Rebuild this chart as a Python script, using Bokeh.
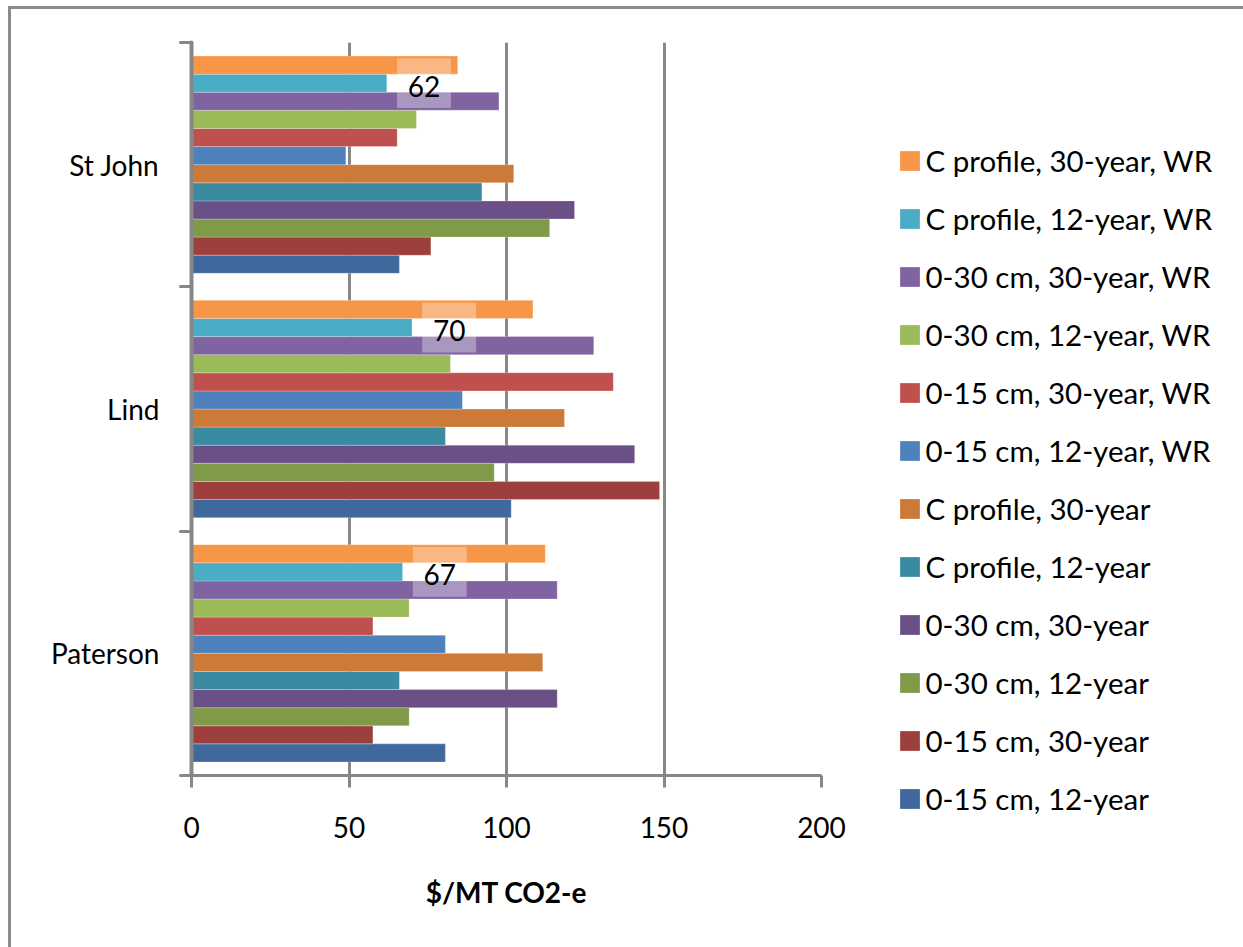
from bokeh.plotting import figure
from bokeh.models import FixedTicker, Legend, LegendItem
from bokeh.core.properties import value
from bokeh.embed import file_html
from bokeh.resources import INLINE

# ---------------- data ----------------
sites = ["Paterson", "Lind", "St John"]          # bottom -> top

series_names = [
    "0-15 cm, 12-year",
    "0-15 cm, 30-year",
    "0-30 cm, 12-year",
    "0-30 cm, 30-year",
    "C profile, 12-year",
    "C profile, 30-year",
    "0-15 cm, 12-year, WR",
    "0-15 cm, 30-year, WR",
    "0-30 cm, 12-year, WR",
    "0-30 cm, 30-year, WR",
    "C profile, 12-year, WR",
    "C profile, 30-year, WR",
]

# values per site: [Paterson, Lind, St John]
cm15_12 = [80.6, 101.5, 66.0]
cm15_30 = [57.6, 148.6, 76.0]
cm30_12 = [69.1, 96.1, 113.7]
cm30_30 = [116.1, 140.7, 121.6]
cprof_12 = [66.0, 80.6, 92.2]
cprof_30 = [111.5, 118.4, 102.3]
cm15_12_wr = [80.6, 86.0, 49.0]
cm15_30_wr = [57.6, 133.9, 65.3]
cm30_12_wr = [69.1, 82.2, 71.4]
cm30_30_wr = [116.1, 127.7, 97.6]
cprof_12_wr = [67.0, 70.0, 62.0]
cprof_30_wr = [112.3, 108.4, 84.5]

series_values = [cm15_12, cm15_30, cm30_12, cm30_30, cprof_12, cprof_30,
                 cm15_12_wr, cm15_30_wr, cm30_12_wr, cm30_30_wr, cprof_12_wr, cprof_30_wr]

series_colors = ["#3F699C", "#9D403D", "#7F9A48", "#6A5087", "#3A8AA2", "#CC7A38",
                 "#4F81BD", "#C0504D", "#9BBB59", "#8064A2", "#4BACC6", "#F79646"]

labeled_series = 10          # data labels belong to "C profile, 12-year, WR"
label_values = cprof_12_wr

x_ticks = [0, 50, 100, 150, 200]

# ---------------- styling ----------------
FONT = "Lato"
GRAY = "#878787"
FRAME_GRAY = "#8c8c8c"
pitch = 0.0741

p = figure(frame_width=630, frame_height=733, x_range=(0, 200), y_range=(0, 3),
           output_backend="svg", toolbar_location=None,
           min_border_left=191, min_border_right=422,
           min_border_top=42, min_border_bottom=172)
p.outline_line_color = None
p.background_fill_color = "white"
p.border_fill_color = None
p.styles = {
    "background-color": "white",
    "background-image": f"linear-gradient({FRAME_GRAY},{FRAME_GRAY}), linear-gradient({FRAME_GRAY},{FRAME_GRAY})",
    "background-size": "3px 100%, 100% 3px",
    "background-position": "8px 6px, 8px 6px",
    "background-repeat": "no-repeat",
}

centers = [i + 0.5 for i in range(len(sites))]
items = []
for i, (name, vals, col) in enumerate(zip(series_names, series_values, series_colors)):
    ys = [c + (i - 5.5) * pitch for c in centers]
    r = p.hbar(y=ys, left=0, right=vals, height=pitch, fill_color=col,
               line_color="white", line_alpha=0.25, line_width=1)
    items.append(LegendItem(label=name, renderers=[r]))

# data labels with translucent white box
lab_off = 11.8
lab_x = [v + lab_off for v in label_values]
lab_y = [c + (labeled_series - 5.5) * pitch for c in centers]
p.rect(x=lab_x, y=lab_y, width=17.1, height=2.75 * pitch,
       fill_color="white", fill_alpha=0.33, line_color=None)
p.text(x=lab_x, y=lab_y, text=[str(int(v)) for v in label_values],
       text_align="center", text_baseline="middle", y_offset=3,
       text_font=value(FONT), text_font_size="28px", text_color="black")

# x axis
p.xaxis.ticker = FixedTicker(ticks=x_ticks)
p.xaxis.axis_line_color = GRAY
p.xaxis.axis_line_width = 3
p.xaxis.major_tick_line_color = GRAY
p.xaxis.major_tick_line_width = 3
p.xaxis.major_tick_out = 12
p.xaxis.major_tick_in = 0
p.xaxis.minor_tick_line_color = None
p.xaxis.major_label_text_font = FONT
p.xaxis.major_label_text_font_size = "28px"
p.xaxis.major_label_text_color = "black"
p.xaxis.major_label_standoff = 29
p.xaxis.axis_label = "$/MT CO2-e"
p.xaxis.axis_label_text_font = FONT
p.xaxis.axis_label_text_font_style = "bold"
p.xaxis.axis_label_text_font_size = "28px"
p.xaxis.axis_label_text_color = "black"
p.xaxis.axis_label_standoff = 34

# y axis
p.yaxis.ticker = FixedTicker(ticks=centers, minor_ticks=[0, 1, 2, 3])
p.yaxis.major_label_overrides = {c: s for c, s in zip(centers, sites)}
p.yaxis.axis_line_color = GRAY
p.yaxis.axis_line_width = 4
p.yaxis.axis_line_cap = "round"
p.yaxis.major_tick_line_color = None
p.yaxis.major_tick_out = 0
p.yaxis.major_tick_in = 0
p.yaxis.minor_tick_line_color = GRAY
p.yaxis.minor_tick_line_width = 3
p.yaxis.minor_tick_line_cap = "round"
p.yaxis.minor_tick_out = 11
p.yaxis.minor_tick_in = 0
p.yaxis.major_label_text_font = FONT
p.yaxis.major_label_text_font_size = "28px"
p.yaxis.major_label_text_color = "black"
p.yaxis.major_label_standoff = 21

# grid
p.ygrid.grid_line_color = None
p.xgrid.ticker = FixedTicker(ticks=x_ticks[1:])
p.xgrid.grid_line_color = GRAY
p.xgrid.grid_line_width = 3

# legend (right side panel)
legend = Legend(items=items[::-1], location=(75.5, -41),
                glyph_width=25, glyph_height=25, label_height=34,
                spacing=23, label_standoff=4, padding=0, margin=0,
                border_line_color=None, background_fill_alpha=0,
                label_text_font=FONT, label_text_font_size="29.5px",
                label_text_color="black")
p.add_layout(legend, "right")

open("out.html", "w").write(file_html(p, INLINE))
